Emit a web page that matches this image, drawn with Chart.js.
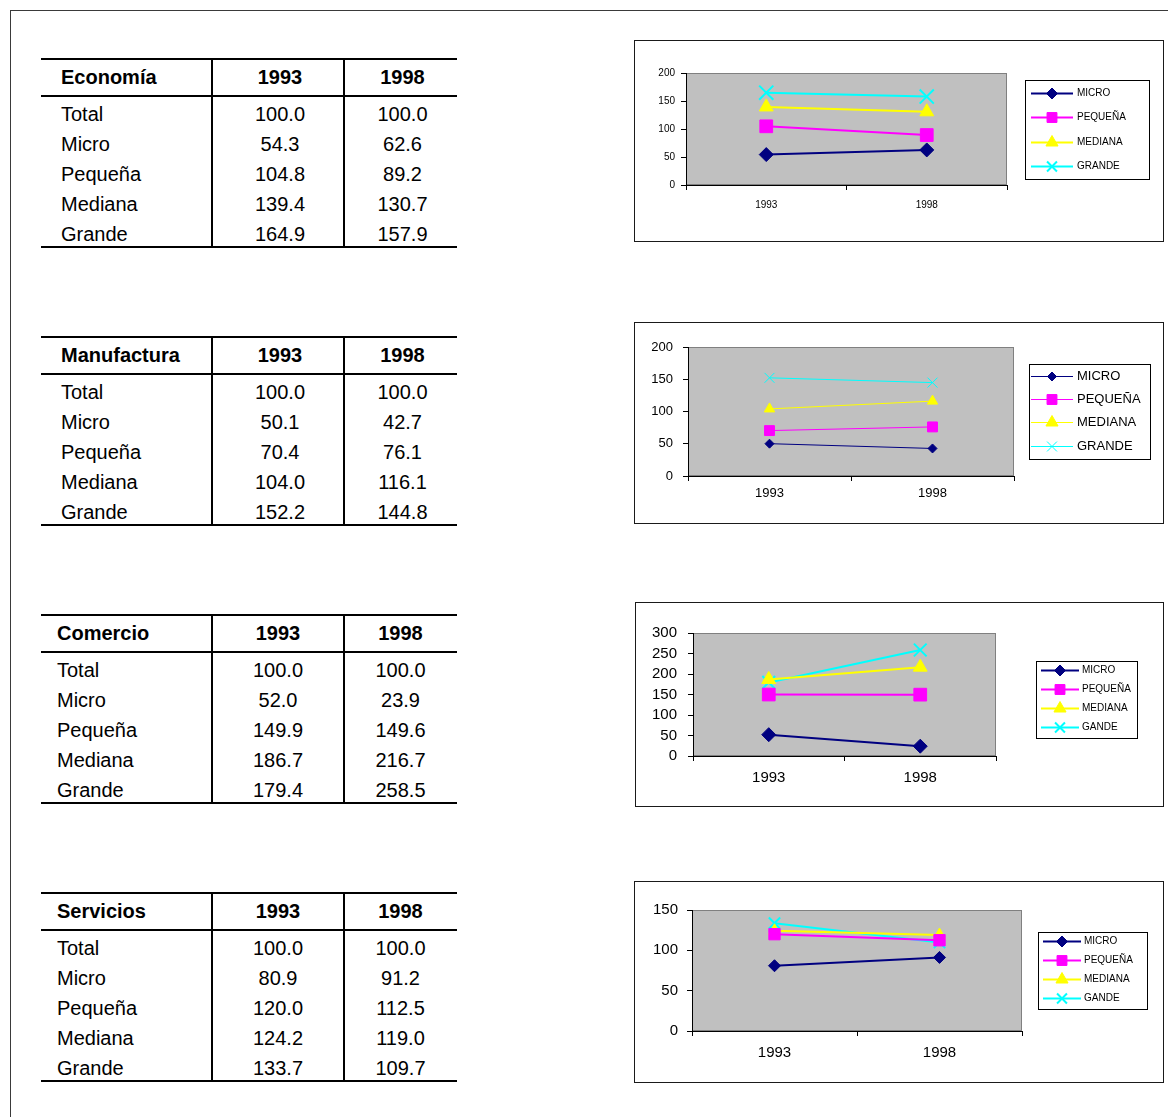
<!DOCTYPE html>
<html>
<head>
<meta charset="utf-8">
<title>Índices por tamaño de empresa, 1993 y 1998</title>
<script src="https://cdn.jsdelivr.net/npm/chart.js@4.4.1/dist/chart.umd.min.js"></script>
<style>
  html, body { margin: 0; padding: 0; background: #fff; width: 1168px; height: 1117px; overflow: hidden;
               font-family: "Liberation Sans", Arial, Helvetica, sans-serif; }
  #frame { position: absolute; left: 10px; top: 10px; width: 1200px; height: 1200px; border: 1px solid #3a3a3a; }
  .rule { position: absolute; background: #000; }
  .cell { position: absolute; white-space: nowrap; font-size: 20px; line-height: 24px; height: 24px; color: #000; }
  .cell.head { font-weight: bold; }
  .cell.num { text-align: center; }
  .box { position: absolute; border: 1px solid #1a1a1a; box-sizing: border-box; background: #fff; }
  .box canvas { position: absolute; left: 0; top: 0; }
</style>
</head>
<body>
<div id="frame"></div>
<div id="tables"></div>
<div class="box" style="left:634px; top:40px; width:530px; height:202px;"><canvas id="c1" width="528" height="200"></canvas></div>
<div class="box" style="left:634px; top:322px; width:530px; height:202px;"><canvas id="c2" width="528" height="200"></canvas></div>
<div class="box" style="left:635px; top:602px; width:529px; height:205px;"><canvas id="c3" width="527" height="203"></canvas></div>
<div class="box" style="left:634px; top:881px; width:530px; height:202px;"><canvas id="c4" width="528" height="200"></canvas></div>

<script>
// ---- Data -------------------------------------------------------------
const years = ['1993', '1998'];
const rowLabels = ['Total', 'Micro', 'Pequeña', 'Mediana', 'Grande'];
const sectorNames = ['Economía', 'Manufactura', 'Comercio', 'Servicios'];

// Economía
const ecoTotal = [100.0, 100.0];
const ecoMicro = [54.3, 62.6];
const ecoPequena = [104.8, 89.2];
const ecoMediana = [139.4, 130.7];
const ecoGrande = [164.9, 157.9];

// Manufactura
const manTotal = [100.0, 100.0];
const manMicro = [50.1, 42.7];
const manPequena = [70.4, 76.1];
const manMediana = [104.0, 116.1];
const manGrande = [152.2, 144.8];

// Comercio
const comTotal = [100.0, 100.0];
const comMicro = [52.0, 23.9];
const comPequena = [149.9, 149.6];
const comMediana = [186.7, 216.7];
const comGrande = [179.4, 258.5];

// Servicios
const serTotal = [100.0, 100.0];
const serMicro = [80.9, 91.2];
const serPequena = [120.0, 112.5];
const serMediana = [124.2, 119.0];
const serGrande = [133.7, 109.7];

// Legend names as they appear in each chart
const legendNames = ['MICRO', 'PEQUEÑA', 'MEDIANA', 'GRANDE'];
const legendNamesAlt = ['MICRO', 'PEQUEÑA', 'MEDIANA', 'GANDE'];

// Y axis ranges
const yMax = [200, 200, 300, 150];
const yStep = 50;

// ---- Tables -----------------------------------------------------------
const tableRows = [
  [ecoTotal, ecoMicro, ecoPequena, ecoMediana, ecoGrande],
  [manTotal, manMicro, manPequena, manMediana, manGrande],
  [comTotal, comMicro, comPequena, comMediana, comGrande],
  [serTotal, serMicro, serPequena, serMediana, serGrande]
];
const tableTops = [59, 337, 615, 893];
const labelLeft = [61, 61, 57, 57];
const numShift = [2, 2, 0, 0];

const host = document.getElementById('tables');
function addRule(x, y, w, h) {
  const d = document.createElement('div');
  d.className = 'rule';
  d.style.cssText = `left:${x}px;top:${y}px;width:${w}px;height:${h}px;`;
  host.appendChild(d);
}
function addCell(text, cls, x, yc, w) {
  const d = document.createElement('div');
  d.className = 'cell ' + cls;
  d.textContent = text;
  d.style.left = x + 'px';
  d.style.top = (yc - 12) + 'px';
  if (w) d.style.width = w + 'px';
  host.appendChild(d);
}

const tLeft = 41, tRight = 457, col1 = 212, col2 = 344;
tableRows.forEach((rows, t) => {
  const T = tableTops[t];
  addRule(tLeft, T - 1, tRight - tLeft, 2);
  addRule(tLeft, T + 36, tRight - tLeft, 2);
  addRule(tLeft, T + 187, tRight - tLeft, 2);
  addRule(col1 - 1, T - 1, 2, 190);
  addRule(col2 - 1, T - 1, 2, 190);
  addCell(sectorNames[t], 'head', labelLeft[t], T + 18);
  addCell(years[0], 'head num', col1 + numShift[t], T + 18, col2 - col1);
  addCell(years[1], 'head num', col2 + numShift[t], T + 18, tRight - col2);
  rows.forEach((vals, r) => {
    const yc = T + 55 + r * 30;
    addCell(rowLabels[r], '', labelLeft[t], yc);
    addCell(vals[0].toFixed(1), 'num', col1 + numShift[t], yc, col2 - col1);
    addCell(vals[1].toFixed(1), 'num', col2 + numShift[t], yc, tRight - col2);
  });
});

// ---- Charts -----------------------------------------------------------
const seriesColors = ['#000080', '#ff00ff', '#ffff00', '#00ffff'];
const seriesStyles = ['rectRot', 'rect', 'triangle', 'crossRot'];
const FONT = '"Liberation Sans", Arial, sans-serif';

// Grey plot area with a thin frame, like a spreadsheet chart
const plotBg = {
  id: 'plotBg',
  beforeDraw(chart) {
    const { ctx, chartArea: a } = chart;
    ctx.save();
    ctx.fillStyle = '#c0c0c0';
    ctx.fillRect(a.left, a.top, a.right - a.left, a.bottom - a.top);
    ctx.strokeStyle = '#808080';
    ctx.lineWidth = 1;
    ctx.strokeRect(a.left + 0.5, a.top + 0.5, a.right - a.left - 1, a.bottom - a.top - 1);
    ctx.restore();
  }
};

// Framed legend with line + marker samples
const legendBox = {
  id: 'legendBox',
  afterDraw(chart, args, o) {
    const ctx = chart.ctx;
    ctx.save();
    ctx.fillStyle = '#fff';
    ctx.fillRect(o.x1, o.y1, o.x2 - o.x1, o.y2 - o.y1);
    ctx.strokeStyle = '#000';
    ctx.lineWidth = 1;
    ctx.strokeRect(o.x1 + 0.5, o.y1 + 0.5, o.x2 - o.x1 - 1, o.y2 - o.y1 - 1);
    chart.data.datasets.forEach((ds, i) => {
      const y = o.rows[i] + 0.5;
      ctx.strokeStyle = ds.borderColor;
      ctx.lineWidth = ds.borderWidth;
      ctx.beginPath();
      ctx.moveTo(o.lx1, y);
      ctx.lineTo(o.lx2, y);
      ctx.stroke();
      ctx.fillStyle = ds.backgroundColor;
      ctx.strokeStyle = ds.borderColor;
      ctx.lineWidth = ds.pointBorderWidth;
      const mx = (o.lx1 + o.lx2) / 2;
      if (Chart.helpers && Chart.helpers.drawPoint) {
        Chart.helpers.drawPoint(ctx, { pointStyle: ds.pointStyle, radius: o.radii[i], borderWidth: ds.pointBorderWidth, rotation: 0 }, mx, y);
      }
      ctx.fillStyle = '#000';
      ctx.font = o.fontSize + 'px ' + FONT;
      ctx.textBaseline = 'middle';
      ctx.textAlign = 'left';
      ctx.fillText(ds.label, o.tx, y);
    });
    ctx.restore();
  }
};

function makeChart(id, series, names, cfg) {
  const datasets = series.map((vals, i) => ({
    label: names[i],
    data: vals,
    borderColor: seriesColors[i],
    backgroundColor: seriesColors[i],
    borderWidth: cfg.lineWidth,
    pointStyle: seriesStyles[i],
    pointRadius: cfg.radii[i],
    pointBorderWidth: i === 3 ? cfg.crossWidth : 1,
    pointBorderColor: seriesColors[i],
    pointBackgroundColor: seriesColors[i],
    tension: 0,
    clip: false
  }));
  return new Chart(document.getElementById(id), {
    type: 'line',
    data: { labels: years, datasets },
    options: {
      responsive: false,
      animation: false,
      devicePixelRatio: 1,
      layout: { padding: { left: 0, top: cfg.top, right: cfg.right, bottom: cfg.bottom } },
      plugins: {
        legend: { display: false },
        tooltip: { enabled: false },
        legendBox: cfg.legend
      },
      scales: {
        x: {
          offset: true,
          grid: { offset: true, drawOnChartArea: false, drawTicks: true, tickLength: 5, color: '#000', lineWidth: 1 },
          border: { color: '#000', width: 1 },
          ticks: { color: '#000', font: { family: FONT, size: cfg.xFont }, padding: cfg.xPad, maxRotation: 0 },
          afterFit: s => { s.height = 30; }
        },
        y: {
          min: 0,
          max: cfg.max,
          grid: { drawOnChartArea: false, drawTicks: true, tickLength: 5, color: '#000', lineWidth: 1 },
          border: { color: '#000', width: 1 },
          ticks: { stepSize: yStep, autoSkip: false, color: '#000', font: { family: FONT, size: cfg.yFont, lineHeight: 1 }, padding: cfg.yPad },
          afterFit: s => { s.width = cfg.yWidth; }
        }
      }
    },
    plugins: [plotBg, legendBox]
  });
}

makeChart('c1', [ecoMicro, ecoPequena, ecoMediana, ecoGrande], legendNames, {
  max: yMax[0], top: 32, right: 156, bottom: 26, yWidth: 51,
  xFont: 10, yFont: 10, xPad: 9, yPad: 6,
  lineWidth: 2, crossWidth: 2, radii: [7, 9, 8, 10],
  legend: { x1: 390, y1: 39, x2: 515, y2: 139, rows: [52, 76, 101, 125], lx1: 396, lx2: 438, tx: 442, fontSize: 10, radii: [5.5, 7, 7, 7] }
});

makeChart('c2', [manMicro, manPequena, manMediana, manGrande], legendNames, {
  max: yMax[1], top: 24, right: 149, bottom: 17, yWidth: 53,
  xFont: 13, yFont: 13, xPad: 5, yPad: 10,
  lineWidth: 1, crossWidth: 1, radii: [4.5, 7, 6, 7],
  legend: { x1: 394, y1: 41, x2: 516, y2: 137, rows: [53, 76, 99, 123], lx1: 396, lx2: 438, tx: 442, fontSize: 13, radii: [4.5, 7, 7, 7] }
});

makeChart('c3', [comMicro, comPequena, comMediana, comGrande], legendNamesAlt, {
  max: yMax[2], top: 30, right: 167, bottom: 20, yWidth: 57,
  xFont: 15, yFont: 15, xPad: 8, yPad: 11,
  lineWidth: 2, crossWidth: 2, radii: [7, 9, 8, 9],
  legend: { x1: 400, y1: 58, x2: 502, y2: 136, rows: [67, 86, 105, 124], lx1: 405, lx2: 443, tx: 446, fontSize: 10, radii: [5.5, 7, 7, 7] }
});

makeChart('c4', [serMicro, serPequena, serMediana, serGrande], legendNamesAlt, {
  max: yMax[3], top: 28, right: 141, bottom: 21, yWidth: 57,
  xFont: 15, yFont: 15, xPad: 8, yPad: 9,
  lineWidth: 2, crossWidth: 2, radii: [6, 8, 7, 8],
  legend: { x1: 403, y1: 50, x2: 513, y2: 128, rows: [59, 78, 97, 116], lx1: 408, lx2: 446, tx: 449, fontSize: 10, radii: [5.5, 7, 7, 7] }
});
</script>
</body>
</html>
